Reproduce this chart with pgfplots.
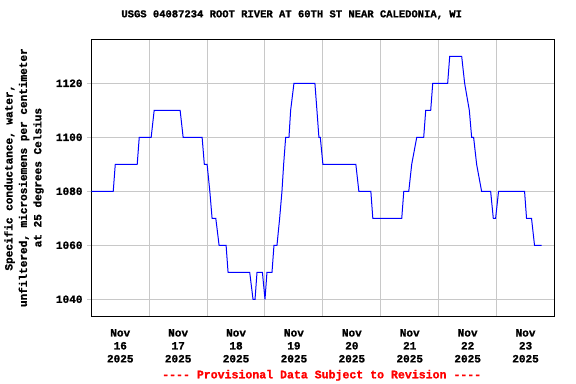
\documentclass[border=0pt]{standalone}
\usepackage{fontspec}
\setmainfont{Liberation Mono}[BoldFeatures={FakeBold=1.2}]
\usepackage{pgfplots}
\pgfplotsset{compat=1.18}
\definecolor{gridgray}{RGB}{200,200,200}
\begin{document}
\begin{tikzpicture}[font=\bfseries\fontsize{11.1}{13}\selectfont]
\path[use as bounding box] (0,0) rectangle (576bp,384bp);
\begin{axis}[
  at={(91.3bp,68bp)}, anchor=south west,
  scale only axis, width=463.2bp, height=276.7bp,
  xmin=0, xmax=8, ymin=1033.8, ymax=1136.3,
  axis line style={black, line width=1bp},
  xtick={0.5,1.5,...,7.5},
  xticklabels={{Nov\\16\\2025},{Nov\\17\\2025},{Nov\\18\\2025},{Nov\\19\\2025},{Nov\\20\\2025},{Nov\\21\\2025},{Nov\\22\\2025},{Nov\\23\\2025}},
  xticklabel style={align=center, anchor=north, inner sep=0pt, yshift=-9bp},
  minor xtick={1,2,...,7},
  xminorgrids,
  xtick style={draw=none},
  minor x tick style={draw=none},
  minor grid style={gridgray, line width=1bp},
  ytick={1040,1060,1080,1100,1120},
  yticklabels={1040,1060,1080,1100,1120},
  ymajorgrids,
  major grid style={gridgray, line width=1bp},
  ytick pos=left,
  ytick style={gridgray, line width=1bp},
  tick align=outside,
  major tick length=4bp,
  yticklabel style={anchor=east, inner sep=0pt, xshift=-4.6bp},
  title={USGS 04087234 ROOT RIVER AT 60TH ST NEAR CALEDONIA, WI},
  title style={at={(axis description cs:0.4326,1.0578)}, anchor=base, inner sep=0pt, font=\bfseries\fontsize{10.55}{13}\selectfont},
  xlabel={{-}{-}{-}{-} Provisional Data Subject to Revision {-}{-}{-}{-}},
  xlabel style={at={(axis description cs:0.4974,-0.2252)}, anchor=base, inner sep=0pt, text=red, font=\bfseries\fontsize{11.6}{13}\selectfont},
  ylabel={Specific conductance, water,\\unfiltered, microsiemens per centimeter\\at 25 degrees Celsius},
  ylabel style={at={(axis description cs:-0.1453,0.5)}, anchor=center, align=center, inner sep=0pt, font=\bfseries\fontsize{11.1}{14.5}\selectfont},
]
\addplot[blue, line width=1bp] coordinates {
(0,1080) (0.379,1080) (0.414,1090) (0.793,1090) (0.828,1100) (1.034,1100) (1.086,1110) (1.534,1110) (1.586,1100) (1.914,1100) (1.952,1090) (2.000,1090) (2.047,1080) (2.086,1070) (2.150,1070) (2.207,1060) (2.328,1060) (2.362,1050) (2.736,1050) (2.793,1040) (2.828,1040) (2.862,1050) (2.955,1050) (3.000,1040) (3.034,1050) (3.121,1050) (3.155,1060) (3.207,1060) (3.253,1070) (3.293,1080) (3.322,1090) (3.357,1100) (3.414,1100) (3.443,1110) (3.500,1120) (3.862,1120) (3.897,1110) (3.931,1100) (3.955,1100) (4.000,1090) (4.569,1090) (4.621,1080) (4.828,1080) (4.862,1070) (5.362,1070) (5.397,1080) (5.483,1080) (5.534,1090) (5.621,1100) (5.741,1100) (5.776,1110) (5.862,1110) (5.897,1120) (6.155,1120) (6.190,1130) (6.397,1130) (6.448,1120) (6.529,1110) (6.569,1100) (6.603,1100) (6.655,1090) (6.741,1080) (6.897,1080) (6.943,1070) (6.983,1070) (7.034,1080) (7.483,1080) (7.517,1070) (7.603,1070) (7.655,1060) (7.776,1060)
};
\end{axis}
\end{tikzpicture}
\end{document}
